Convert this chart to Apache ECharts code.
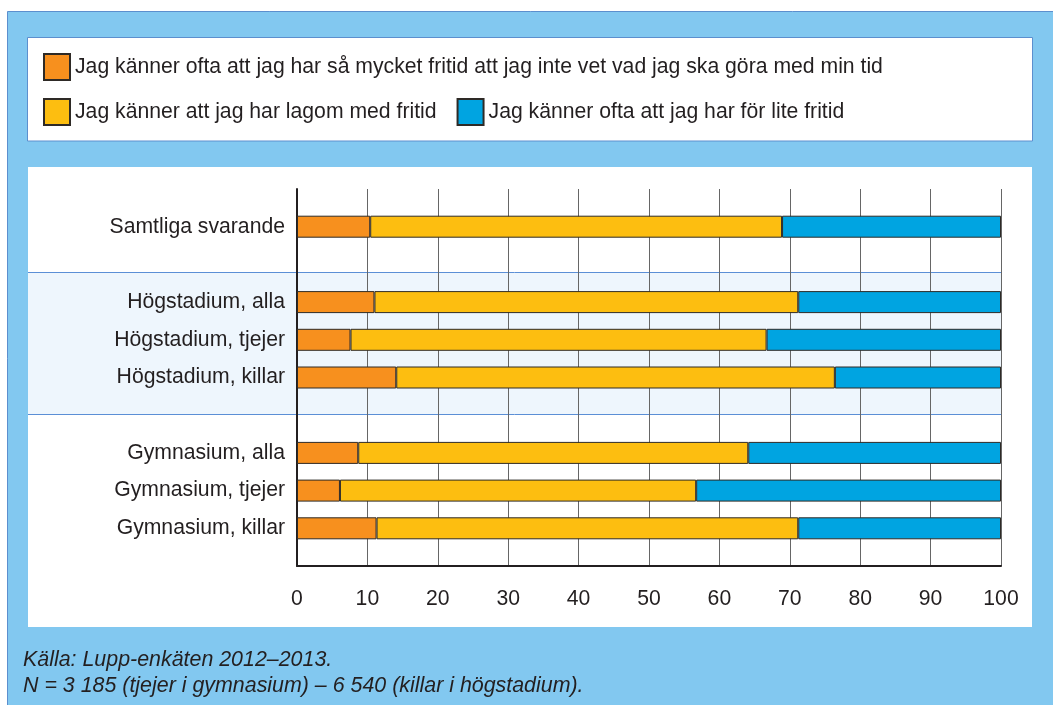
<!DOCTYPE html>
<html><head><meta charset="utf-8">
<script src="https://cdn.jsdelivr.net/npm/echarts@6/dist/echarts.min.js"></script>
<style>html,body{margin:0;padding:0;background:#fff}#c{width:1053px;height:705px}</style>
</head><body><div id="c"></div>
<script>
const categories = ['', 'Samtliga svarande', '', 'Högstadium, alla', 'Högstadium, tjejer', 'Högstadium, killar', '', 'Gymnasium, alla', 'Gymnasium, tjejer', 'Gymnasium, killar', ''];
const seriesNames = [
  'Jag känner ofta att jag har så mycket fritid att jag inte vet vad jag ska göra med min tid',
  'Jag känner att jag har lagom med fritid',
  'Jag känner ofta att jag har för lite fritid'
];
const tooMuch   = [null, 10.4, null, 11.0, 7.6, 14.1, null, 8.7, 6.1, 11.3, null];
const justRight = [null, 58.5, null, 60.2, 59.1, 62.3, null, 55.4, 50.6, 59.9, null];
const tooLittle = [null, 31.1, null, 28.8, 33.3, 23.6, null, 35.9, 43.3, 28.8, null];
const xTicks = [0, 10, 20, 30, 40, 50, 60, 70, 80, 90, 100];
const footnotes = ['Källa: Lupp-enkäten 2012–2013.', 'N = 3 185 (tjejer i gymnasium) – 6 540 (killar i högstadium).'];
const colors = ['#F7901E', '#FDBE10', '#00A4E1'];

const FONT = '"Liberation Sans", Arial, Helvetica, sans-serif';
const TXT = '#231F20';
const FS = 21.2;
const chart = echarts.init(document.getElementById('c'), null, {renderer: 'canvas'});

function bar(name, data, color) {
  return {
    name, type: 'bar', stack: 'total', data, barWidth: 22,
    itemStyle: {color, borderColor: '#2E2A26', borderWidth: 1},
    emphasis: {disabled: true}, animation: false
  };
}
const legendBase = {
  icon: 'rect', itemWidth: 26, itemHeight: 26, padding: 0, itemGap: 20,
  selectedMode: false, textStyle: {fontSize: FS, color: TXT, fontFamily: FONT}
};
chart.setOption({
  backgroundColor: '#ffffff',
  animation: false,
  textStyle: {fontFamily: FONT},
  legend: [
    Object.assign({}, legendBase, {data: [seriesNames[0]], left: 43, top: 53}),
    Object.assign({}, legendBase, {data: [seriesNames[1], seriesNames[2]], left: 43, top: 98})
  ],
  grid: {left: 297, top: 189, width: 704, height: 377, containLabel: false},
  xAxis: {
    type: 'value', min: xTicks[0], max: xTicks[xTicks.length - 1], interval: xTicks[1] - xTicks[0],
    axisLine: {show: true, lineStyle: {color: TXT, width: 2}},
    axisTick: {show: false},
    splitLine: {show: true, lineStyle: {color: '#666666', width: 1}},
    axisLabel: {fontSize: FS, color: TXT, margin: 23, fontFamily: FONT}
  },
  yAxis: {
    type: 'category', data: categories, inverse: true, boundaryGap: false,
    axisLine: {show: true, lineStyle: {color: TXT, width: 2}},
    axisTick: {show: false},
    splitLine: {show: false},
    axisLabel: {fontSize: FS, color: TXT, margin: 12, fontFamily: FONT, interval: 0}
  },
  series: [
    bar(seriesNames[0], tooMuch, colors[0]),
    bar(seriesNames[1], justRight, colors[1]),
    bar(seriesNames[2], tooLittle, colors[2])
  ]
});

// background band for the Högstadium group, placed via the axes
const yPix = i => chart.convertToPixel({yAxisIndex: 0}, i);
const step = yPix(3) - yPix(2);
const bandTop = yPix(2) + 0.21 * step;
const bandBottom = yPix(6) - 0.02 * step;
const xRight = chart.convertToPixel({xAxisIndex: 0}, xTicks[xTicks.length - 1]);
const panelLeft = 28;

chart.setOption({
  graphic: [
    {type: 'rect', z: -10, silent: true, shape: {x: 7.5, y: 11.5, width: 1060, height: 710},
      style: {fill: '#82C8F0', stroke: '#5C8FCE', lineWidth: 1}},
    {type: 'rect', z: -9, silent: true, shape: {x: 27.5, y: 37.5, width: 1005, height: 103.5},
      style: {fill: '#ffffff', stroke: '#5C8FCE', lineWidth: 1}},
    {type: 'rect', z: -9, silent: true, shape: {x: panelLeft, y: 167, width: 1004, height: 460},
      style: {fill: '#ffffff'}},
    {type: 'rect', z: -8, silent: true, shape: {x: panelLeft, y: bandTop, width: xRight - panelLeft, height: bandBottom - bandTop},
      style: {fill: '#EEF6FD'}},
    {type: 'line', z: -7, silent: true, shape: {x1: panelLeft, y1: Math.round(bandTop) + 0.5, x2: xRight, y2: Math.round(bandTop) + 0.5},
      style: {stroke: '#5B8FD6', lineWidth: 1}},
    {type: 'line', z: -7, silent: true, shape: {x1: panelLeft, y1: Math.round(bandBottom) + 0.5, x2: xRight, y2: Math.round(bandBottom) + 0.5},
      style: {stroke: '#5B8FD6', lineWidth: 1}},
    {type: 'text', z: 5, silent: true, style: {text: footnotes[0], x: 23, y: 650, fill: TXT,
      font: 'italic 21.4px ' + FONT, verticalAlign: 'top'}},
    {type: 'text', z: 5, silent: true, style: {text: footnotes[1], x: 23, y: 676, fill: TXT,
      font: 'italic 21.4px ' + FONT, verticalAlign: 'top'}}
  ]
});
</script>
</body></html>
